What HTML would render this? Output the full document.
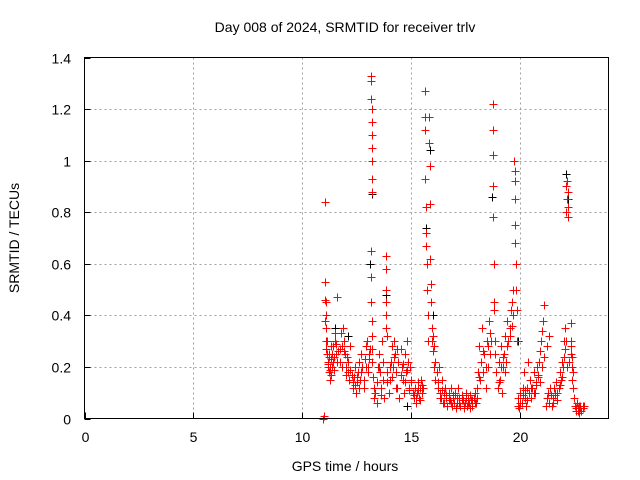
<!DOCTYPE html>
<html><head><meta charset="utf-8"><style>
body{margin:0;background:#fff}
svg{display:block;font-family:"Liberation Sans",sans-serif}
</style></head><body>
<svg id="chart" width="640" height="480">
<rect width="640" height="480" fill="#fff"/>
<text x="345" y="32" font-size="14" text-anchor="middle">Day 008 of 2024, SRMTID for receiver trlv</text>
<text x="345" y="471" font-size="14" text-anchor="middle">GPS time / hours</text>
<text transform="translate(19,238) rotate(-90)" font-size="14" text-anchor="middle">SRMTID / TECUs</text>
<g id="grid"></g>
<g id="ticks"></g>
<g id="black"></g>
<g id="red"></g>
<rect x="84.5" y="57.5" width="524" height="361" fill="none" stroke="#000"/>
</svg>
<script>
const xTicks=[0,5,10,15,20];
const yTicks=[0,0.2,0.4,0.6,0.8,1,1.2,1.4];
const yTickLabels=["0","0.2","0.4","0.6","0.8","1","1.2","1.4"];
const redT=[10.95,10.97,11.05,11.05,11.07,11.08,11.1,11.12,11.13,11.15,11.18,11.2,11.22,11.25,11.28,11.3,11.33,11.35,11.4,11.45,11.5,11.55,11.6,11.65,11.7,11.75,11.8,11.85,11.9,11.95,12.0,12.05,12.1,12.15,12.2,12.25,12.3,12.35,12.4,12.45,12.5,12.55,12.6,12.65,12.7,12.75,12.8,12.85,12.9,12.95,13.0,13.05,
13.15,13.15,13.16,13.17,13.17,13.18,13.18,13.19,13.2,13.2,13.15,13.15,13.16,13.17,13.18,13.19,13.2,
13.25,13.3,13.35,13.4,13.45,13.5,13.55,13.6,13.65,13.7,13.75,13.82,13.82,13.83,13.84,13.85,13.85,13.86,13.9,13.95,14.0,14.05,14.1,14.15,14.2,14.25,14.3,14.35,14.4,14.45,14.5,14.55,14.6,14.65,14.7,14.75,14.8,14.85,14.9,14.95,15.0,15.05,15.1,15.15,15.2,15.25,15.3,15.35,15.4,15.45,15.5,
15.6,15.6,15.62,15.63,15.65,15.66,15.68,15.7,15.72,15.74,15.75,15.8,15.82,15.83,15.85,15.86,15.88,15.9,15.92,15.95,16.0,16.05,16.1,16.15,16.2,16.25,16.3,16.35,16.4,16.45,16.5,16.55,16.6,16.65,16.7,16.75,16.8,16.85,16.9,16.95,17.0,17.05,17.1,17.15,17.2,17.25,17.3,17.35,17.4,17.45,17.5,17.55,17.6,17.65,17.7,17.75,17.8,17.85,17.9,17.95,18.0,18.05,18.1,18.15,18.2,18.25,18.3,18.35,18.4,18.45,18.5,18.55,18.6,18.65,
18.72,18.73,18.74,18.75,18.76,18.77,18.78,18.8,18.82,18.85,18.9,18.95,19.0,19.05,19.1,19.15,19.2,19.25,19.3,19.35,19.4,19.45,19.5,19.55,19.6,19.65,
19.72,19.73,19.74,19.75,19.76,19.77,19.78,19.8,19.82,19.85,19.9,19.95,20.0,20.05,20.1,20.15,20.2,20.25,20.3,20.35,20.4,20.45,20.5,20.55,20.6,20.65,20.7,20.75,20.8,20.85,20.9,20.95,21.0,21.05,21.1,21.15,21.2,21.25,21.3,21.35,21.4,
21.45,21.5,21.55,21.6,21.65,21.7,21.75,21.8,21.85,21.9,21.95,22.0,22.05,22.08,22.1,22.12,22.14,22.16,22.18,22.2,22.25,22.3,22.32,22.34,22.36,22.38,22.4,22.45,22.5,22.55,22.6,22.65,22.7,22.75,22.8,22.85,22.9,
11.02,11.04,11.06,11.1,11.15,11.2,11.25,11.3,11.35,11.4,11.45,11.5,11.55,11.6,11.7,11.8,11.9,12.0,12.1,12.2,12.3,12.4,12.5,12.6,12.7,12.8,12.9,13.0,13.05,13.1,
13.3,13.4,13.5,13.6,13.7,13.9,14.0,14.1,14.2,14.3,14.35,14.4,14.5,14.6,14.7,14.8,14.9,15.0,15.1,15.2,15.3,15.4,15.5,15.55,
16.0,16.05,16.1,16.2,16.3,16.4,16.5,16.6,16.7,16.8,16.9,17.0,17.1,17.2,17.3,17.4,17.5,17.6,17.7,17.8,17.9,18.0,18.1,18.2,18.3,18.4,18.5,18.6,
18.9,19.0,19.1,19.2,19.3,19.4,19.5,19.6,19.65,19.9,20.0,20.1,20.2,20.3,20.4,20.5,20.6,20.7,20.8,20.9,21.0,21.1,21.2,21.3,
21.5,21.6,21.7,21.8,21.9,22.0,22.05,22.1,22.15,22.3,22.35,22.4,22.55,22.6,22.65,22.7,22.75,22.8,22.85,10.96,10.98];
const redV=[0.0,0.01,0.84,0.53,0.45,0.4,0.35,0.3,0.25,0.22,0.2,0.18,0.24,0.15,0.2,0.28,0.17,0.25,0.22,0.19,0.3,0.25,0.47,0.26,0.22,0.33,0.28,0.35,0.3,0.25,0.2,0.24,0.18,0.15,0.28,0.17,0.12,0.16,0.2,0.1,0.14,0.18,0.22,0.15,0.25,0.2,0.12,0.23,0.28,0.3,0.2,0.25,
1.33,1.31,1.24,1.2,1.15,1.1,1.05,1.0,0.93,0.88,0.65,0.55,0.45,0.38,0.32,0.27,0.22,
0.16,0.08,0.1,0.14,0.2,0.25,0.18,0.12,0.3,0.22,0.08,0.63,0.58,0.5,0.45,0.4,0.35,0.32,0.18,0.1,0.15,0.22,0.28,0.2,0.3,0.25,0.18,0.12,0.22,0.08,0.27,0.2,0.15,0.1,0.25,0.18,0.3,0.22,0.12,0.2,0.15,0.1,0.08,0.12,0.06,0.1,0.14,0.08,0.12,0.15,0.1,
1.27,1.17,1.12,0.93,0.82,0.72,0.67,0.6,0.5,0.4,0.3,1.17,1.07,0.98,0.83,0.62,0.52,0.45,0.35,0.3,0.26,0.28,0.22,0.18,0.12,0.2,0.1,0.08,0.15,0.06,0.1,0.12,0.08,0.05,0.1,0.07,0.12,0.05,0.09,0.06,0.1,0.04,0.08,0.12,0.06,0.05,0.09,0.07,0.04,0.06,0.1,0.05,0.08,0.06,0.04,0.07,0.05,0.08,0.1,0.06,0.12,0.18,0.28,0.15,0.22,0.35,0.18,0.25,0.12,0.3,0.2,0.38,0.25,0.3,
1.22,1.12,1.02,0.9,0.78,0.6,0.45,0.42,0.3,0.25,0.18,0.12,0.22,0.15,0.28,0.1,0.2,0.25,0.32,0.22,0.38,0.3,0.35,0.42,0.45,0.5,
1.0,0.96,0.92,0.85,0.75,0.68,0.6,0.5,0.42,0.3,0.08,0.04,0.1,0.06,0.12,0.18,0.08,0.05,0.12,0.22,0.1,0.15,0.08,0.12,0.18,0.1,0.14,0.2,0.16,0.22,0.26,0.3,0.34,0.38,0.44,0.05,0.08,0.1,0.06,0.12,0.09,
0.05,0.08,0.12,0.1,0.14,0.07,0.12,0.18,0.15,0.22,0.2,0.3,0.35,0.8,0.9,0.85,0.92,0.88,0.82,0.78,0.22,0.37,0.3,0.25,0.2,0.15,0.12,0.08,0.05,0.03,0.06,0.04,0.02,0.05,0.03,0.04,0.05,
0.46,0.38,0.3,0.27,0.21,0.25,0.19,0.23,0.2,0.28,0.24,0.33,0.29,0.22,0.27,0.2,0.26,0.17,0.22,0.19,0.14,0.13,0.16,0.12,0.18,0.15,0.2,0.18,0.23,0.27,
0.12,0.06,0.2,0.09,0.15,0.14,0.2,0.16,0.24,0.12,0.27,0.22,0.17,0.21,0.14,0.19,0.11,0.14,0.09,0.08,0.11,0.07,0.13,0.12,
0.32,0.2,0.15,0.14,0.08,0.11,0.06,0.09,0.07,0.06,0.08,0.09,0.06,0.08,0.07,0.05,0.08,0.06,0.09,0.07,0.06,0.08,0.16,0.22,0.26,0.2,0.28,0.33,
0.18,0.14,0.2,0.24,0.18,0.28,0.32,0.36,0.4,0.05,0.06,0.09,0.11,0.07,0.1,0.12,0.1,0.13,0.17,0.14,0.2,0.24,0.28,0.32,
0.06,0.09,0.1,0.13,0.16,0.24,0.27,0.3,0.2,0.28,0.24,0.18,0.04,0.06,0.03,0.05,0.04,0.03,0.05,0.0,0.01];
const blackT=[11.5,12.1,13.12,13.2,13.82,14.8,15.65,15.85,16.0,18.7,19.9,22.1,22.2];
const blackV=[0.35,0.32,0.6,0.87,0.48,0.05,0.74,1.04,0.4,0.86,0.3,0.95,0.85];
const X0=84.5,X1=608.5,XMAX=24.04,Y0=418.5,Y1=57.5,YMAX=1.4;
const sx=t=>X0+t/XMAX*(X1-X0);
const sy=v=>Y0-v/YMAX*(Y0-Y1);
const NS="http://www.w3.org/2000/svg";
const grid=document.getElementById('grid'),ticks=document.getElementById('ticks');
function mk(tag,attrs,parent){const e=document.createElementNS(NS,tag);for(const k in attrs)e.setAttribute(k,attrs[k]);parent.appendChild(e);return e;}
xTicks.forEach(t=>{const x=Math.round(sx(t))+0.5;
 if(t>0){const g=mk('line',{x1:x,x2:x,y1:Y1,y2:Y0,stroke:'#a0a0a0','stroke-dasharray':'2,3'},grid);
 
 }
 mk('line',{x1:x,x2:x,y1:Y0,y2:Y0-6,stroke:'#000'},ticks);
 const l=mk('text',{x:x,y:442,'font-size':14,'text-anchor':'middle'},ticks);l.textContent=t;
 
 });
yTicks.forEach((v,i)=>{const y=Math.round(sy(v))+0.5;
 if(v>0&&v<1.4){const g=mk('line',{x1:X0,x2:X1,y1:y,y2:y,stroke:'#a0a0a0','stroke-dasharray':'2,3'},grid);
 
 }
 mk('line',{x1:X0,x2:X0+6,y1:y,y2:y,stroke:'#000'},ticks);
 const l=mk('text',{x:71,y:y+5,'font-size':14,'text-anchor':'end'},ticks);l.textContent=yTickLabels[i];
 
 });
function plus(T,V,color,gid,name){const g=document.getElementById(gid);let d='';
 T.forEach((t,i)=>{const x=Math.round(sx(t))+0.5,y=Math.round(sy(V[i]))+0.5;d+=`M${x-4},${y}h8M${x},${y-4}v8`;});
 const p=mk('path',{d:d,stroke:color,'stroke-width':1,fill:'none'},g);
 
 }
plus(blackT,blackV,'#000','black','black-points');
plus(redT,redV,'#f00','red','red-points');
</script>
</body></html>
